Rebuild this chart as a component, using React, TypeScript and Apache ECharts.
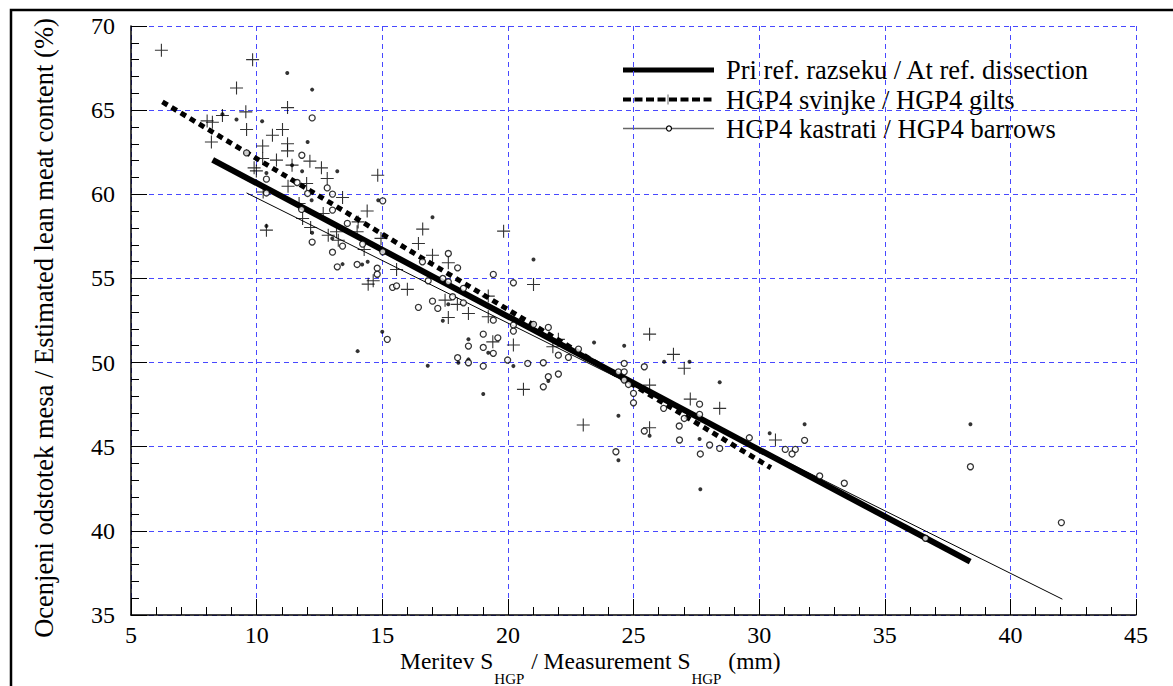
import React, { useEffect, useRef } from "react";
import * as echarts from "echarts";

// Regression lines (end points)
const refLine: [number, number][] = [[8.25, 62.05], [38.4, 38.17]];
const giltsLine: [number, number][] = [[6.25, 65.49], [30.47, 43.75]];
const barrowsLine: [number, number][] = [[9.6, 60.08], [42.07, 35.94]];

// HGP4 gilts (crosses)
const giltsPts: [number, number][] = [
  [6.21, 68.56], [9.84, 68.0], [9.2, 66.32], [11.23, 65.15], [9.57, 64.9], [8.03, 64.36], [8.24, 64.28],
  [8.64, 64.68], [9.6, 63.85], [8.2, 63.11], [10.63, 63.51], [11.03, 63.85], [10.24, 62.87], [11.23, 63.0],
  [11.23, 62.58], [10.24, 62.13], [12.12, 61.97], [10.79, 62.03], [11.41, 61.73], [12.58, 61.57], [12.81, 60.94],
  [9.9, 61.57], [9.99, 61.39], [11.25, 60.48], [11.99, 60.64], [13.42, 59.81], [10.26, 60.14], [10.39, 57.87],
  [11.69, 59.45], [12.65, 58.86], [11.83, 58.56], [12.15, 58.03], [12.85, 57.57], [13.25, 57.27], [13.18, 57.77],
  [14.04, 58.36], [14.4, 59.01], [14.0, 57.77], [14.28, 56.72], [14.82, 61.13], [14.95, 57.38], [15.57, 55.53],
  [14.44, 54.66], [14.64, 54.86], [16.61, 57.93], [16.44, 57.08], [17.0, 56.38], [17.63, 55.93], [19.83, 57.81],
  [21.02, 54.64], [16.0, 54.35], [17.5, 53.71], [17.99, 53.46], [18.43, 52.92], [17.63, 52.68], [19.22, 53.95],
  [19.22, 52.72], [19.4, 51.23], [20.22, 51.04], [20.62, 48.41], [22.01, 51.38], [21.79, 50.94], [23.0, 46.29],
  [25.64, 51.69], [26.59, 50.49], [27.02, 49.66], [25.64, 48.66], [27.26, 47.83], [28.43, 47.28], [25.64, 46.13],
  [30.65, 45.4],
];

// HGP4 barrows (open circles)
const barrowsPts: [number, number][] = [
  [12.21, 64.54], [9.6, 62.46], [11.8, 62.32], [10.39, 60.9], [10.39, 60.08], [11.61, 60.7], [12.03, 60.05],
  [12.81, 60.38], [13.02, 60.01], [11.79, 59.1], [13.02, 59.06], [13.61, 58.27], [12.21, 57.16], [13.02, 56.56],
  [13.42, 56.92], [13.21, 55.69], [14.0, 55.83], [14.22, 57.04], [14.8, 55.61], [14.8, 55.25], [15.02, 59.61],
  [15.02, 56.58], [15.41, 54.47], [15.57, 54.56], [15.2, 51.38], [17.63, 56.48], [18.0, 55.63], [19.42, 55.24],
  [20.22, 54.74], [16.6, 55.99], [16.83, 54.86], [17.41, 55.0], [17.63, 54.8], [18.23, 54.41], [17.8, 53.91],
  [18.23, 53.55], [17.0, 53.65], [17.21, 53.22], [16.44, 53.28], [19.42, 52.52], [20.22, 52.23], [20.22, 51.87],
  [19.02, 51.69], [19.6, 51.47], [18.43, 50.98], [19.02, 50.9], [19.42, 50.55], [18.0, 50.29], [18.43, 49.99],
  [19.02, 49.79], [19.99, 50.15], [20.79, 49.95], [21.41, 49.99], [21.02, 52.27], [21.61, 52.09], [22.01, 50.44],
  [22.41, 50.31], [22.81, 50.8], [21.61, 49.16], [22.01, 49.32], [21.41, 48.56], [24.4, 49.45], [24.63, 49.95],
  [24.63, 49.45], [24.63, 48.96], [24.8, 48.7], [25.0, 48.17], [25.0, 47.61], [25.43, 49.75], [25.43, 45.93],
  [26.2, 47.28], [26.82, 46.23], [26.83, 45.4], [27.02, 46.68], [27.63, 47.53], [27.63, 46.92], [28.03, 45.1],
  [28.43, 44.9], [29.61, 45.53], [31.04, 44.84], [31.44, 44.84], [31.31, 44.57], [31.81, 45.38], [27.66, 44.57],
  [32.41, 43.26], [33.39, 42.83], [38.41, 43.81], [36.62, 39.56], [42.03, 40.49], [24.3, 44.7],
];

// Reference dissection (small filled dots)
const refPts: [number, number][] = [
  [11.22, 67.21], [12.21, 66.22], [8.64, 64.76], [9.2, 64.44], [10.22, 64.34], [12.03, 63.11], [11.41, 61.73],
  [11.81, 61.37], [13.21, 61.37], [10.39, 61.27], [12.19, 59.65], [10.39, 58.12], [14.84, 59.65], [12.21, 57.71],
  [13.01, 57.38], [14.42, 55.99], [13.42, 55.85], [14.2, 55.83], [17.0, 58.64], [15.0, 51.83], [14.02, 50.68],
  [16.81, 49.81], [21.02, 56.13], [17.63, 53.46], [17.41, 52.48], [18.43, 51.38], [19.22, 50.58], [18.43, 50.19],
  [18.03, 49.99], [20.22, 49.79], [19.02, 48.13], [21.61, 48.9], [23.43, 51.19], [24.63, 51.0], [24.4, 46.84],
  [26.22, 50.05], [27.23, 50.05], [28.43, 48.83], [25.64, 45.65], [27.63, 45.46], [30.42, 45.8], [31.81, 46.33],
  [38.41, 46.33], [27.66, 42.47], [24.4, 44.2],
];

const legendNames = [
  "Pri ref. razseku / At ref. dissection",
  "HGP4 svinjke / HGP4 gilts",
  "HGP4 kastrati / HGP4 barrows",
];
const yTitle = "Ocenjeni odstotek mesa / Estimated lean meat content (%)";
const xTitleParts = ["Meritev S", "HGP", " / Measurement S", "HGP", " (mm)"];

const X_MIN = 5, X_MAX = 45, X_STEP = 5;
const Y_MIN = 35, Y_MAX = 70, Y_STEP = 5;

const FONT = "Liberation Serif";
const GRID_BLUE = "#4848ff";
const CROSS = "path://M5,0L5,10M0,5L10,5";

export default function App() {
  const ref = useRef<HTMLDivElement>(null);
  useEffect(() => {
    if (!ref.current) return;
    const chart = echarts.init(ref.current, null, { renderer: "svg" });

    const axisCommon = (min: number, max: number, step: number, labelMargin: number) => ({
      type: "value" as const,
      min,
      max,
      interval: step,
      axisLine: { show: true, onZero: false, lineStyle: { color: "#000", width: 1.5 } },
      axisTick: { show: true, inside: true, length: 16, lineStyle: { color: "#000", width: 1 } },
      minorTick: { show: true, splitNumber: 5, length: 8, lineStyle: { color: "#000", width: 1 } },
      splitLine: { show: true, lineStyle: { color: GRID_BLUE, type: [5, 4], width: 1 } },
      axisLabel: { color: "#000", fontFamily: FONT, fontSize: 24, margin: labelMargin },
    });

    const lx0 = 623, lx1 = 714, ltx = 726;
    const rows = [70, 99.5, 128.5];
    const legendText = (i: number) => ({
      type: "text", x: ltx, y: rows[i],
      style: { text: legendNames[i], fontFamily: FONT, fontSize: 26.5, fill: "#000", verticalAlign: "middle" },
    });

    chart.setOption({
      animation: false,
      backgroundColor: "#fff",
      textStyle: { fontFamily: FONT },
      grid: { left: 131, top: 26, right: 37, bottom: 71, containLabel: false },
      xAxis: axisCommon(X_MIN, X_MAX, X_STEP, 8),
      yAxis: axisCommon(Y_MIN, Y_MAX, Y_STEP, 16),
      series: [
        {
          name: legendNames[0], type: "line", data: refLine, showSymbol: false, z: 3,
          lineStyle: { color: "#000", width: 6 },
        },
        {
          name: legendNames[1], type: "line", data: giltsLine, showSymbol: false, z: 3,
          lineStyle: { color: "#000", width: 5, type: [6, 4.7] },
        },
        {
          name: legendNames[2], type: "line", data: barrowsLine, showSymbol: false, z: 3,
          lineStyle: { color: "#000", width: 1 },
        },
        {
          name: "ref points", type: "scatter", data: refPts, symbol: "circle", symbolSize: 4, z: 4,
          itemStyle: { color: "#000" },
        },
        {
          name: "gilts points", type: "scatter", data: giltsPts, symbol: CROSS, symbolSize: 13, z: 4,
          itemStyle: { color: "none", borderColor: "#000", borderWidth: 1.1 },
        },
        {
          name: "barrows points", type: "scatter", data: barrowsPts, symbol: "circle", symbolSize: 6, z: 5,
          itemStyle: { color: "#fff", borderColor: "#000", borderWidth: 1.3 },
        },
      ],
      graphic: [
        {
          type: "rect", z: 10, silent: true,
          shape: { x: 11, y: 10, width: 1250, height: 760 },
          style: { fill: "none", stroke: "#000", lineWidth: 2.5 },
        },
        {
          type: "text", x: 44, y: 328, rotation: Math.PI / 2,
          style: { text: yTitle, fontFamily: FONT, fontSize: 26.5, fill: "#000", align: "center", verticalAlign: "middle" },
        },
        {
          type: "text", x: 400, y: 649,
          style: {
            text: `{m|${xTitleParts[0]}}{s|${xTitleParts[1]}}{m|${xTitleParts[2]}}{s|${xTitleParts[3]}}{m|${xTitleParts[4]}}`,
            align: "left", verticalAlign: "top", fill: "#000",
            rich: {
              m: { fontFamily: FONT, fontSize: 23.5, lineHeight: 22, verticalAlign: "top", fill: "#000" },
              s: { fontFamily: FONT, fontSize: 15, lineHeight: 15, verticalAlign: "top", padding: [22, 1, 0, 1], fill: "#000" },
            },
          },
        },
        // legend row 1
        { type: "line", shape: { x1: lx0, y1: rows[0], x2: lx1, y2: rows[0] }, style: { stroke: "#000", lineWidth: 5 } },
        legendText(0),
        // legend row 2
        { type: "line", shape: { x1: lx0, y1: rows[1], x2: lx1, y2: rows[1] }, style: { stroke: "#000", lineWidth: 4, lineDash: [8, 3.5] } },
        { type: "line", shape: { x1: 668, y1: rows[1] - 5, x2: 668, y2: rows[1] + 5 }, style: { stroke: "#666", lineWidth: 1 } },
        legendText(1),
        // legend row 3
        { type: "line", shape: { x1: lx0, y1: rows[2], x2: lx1, y2: rows[2] }, style: { stroke: "#666", lineWidth: 1.5 } },
        { type: "circle", shape: { cx: 669, cy: rows[2], r: 2.5 }, style: { fill: "#fff", stroke: "#000", lineWidth: 1.2 } },
        legendText(2),
      ],
    });
    return () => chart.dispose();
  }, []);

  return (
    <div
      ref={ref}
      style={{ position: "fixed", left: 0, top: 0, width: 1173, height: 686, background: "#fff" }}
    />
  );
}
